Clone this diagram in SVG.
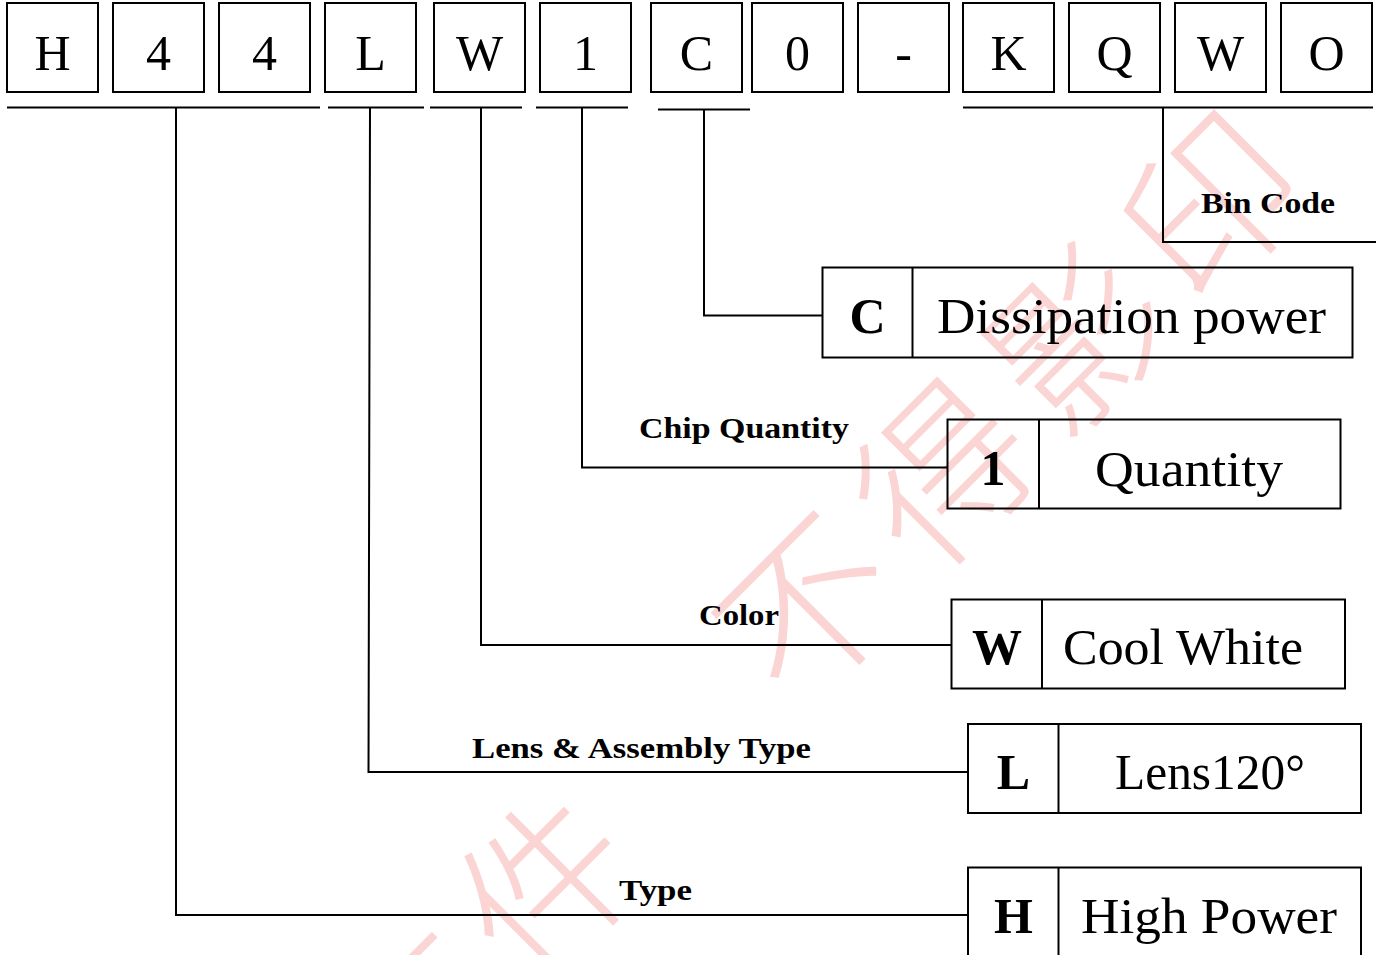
<svg xmlns="http://www.w3.org/2000/svg" width="1381" height="955" viewBox="0 0 1381 955">
<style>
.bx{fill:none;stroke:#000;stroke-width:2}
.ln{fill:none;stroke:#000;stroke-width:2}
.ch{font-family:"Liberation Serif","DejaVu Serif",serif;font-size:50px;text-anchor:middle;fill:#000}
.code{font-family:"Liberation Serif","DejaVu Serif",serif;font-size:50px;font-weight:bold;text-anchor:middle;fill:#000}
.desc{font-family:"Liberation Serif","DejaVu Serif",serif;font-size:50px;fill:#000}
.lbl{font-family:"Liberation Serif","DejaVu Serif",serif;font-size:30px;font-weight:bold;fill:#000}
.wm{font-family:"Noto Sans CJK SC",sans-serif;font-size:170px;font-weight:300;fill:#fbd4d4}
</style>
<rect width="1381" height="955" fill="#fff"/>
<g id="watermark">
<text class="wm" transform="translate(1010,392) rotate(-45)" text-anchor="middle" dominant-baseline="central" letter-spacing="20">不得影印</text>
<text class="wm" transform="translate(478,938) rotate(-45)" text-anchor="middle" dominant-baseline="central" letter-spacing="20">文件</text>
</g>
<g id="code-boxes">
<g id="c1"><rect class="bx" x="7" y="3" width="91" height="89"/><text class="ch" x="52.5" y="70">H</text></g>
<g id="c2"><rect class="bx" x="113" y="3" width="91" height="89"/><text class="ch" x="158.5" y="70">4</text></g>
<g id="c3"><rect class="bx" x="219" y="3" width="91" height="89"/><text class="ch" x="264.5" y="70">4</text></g>
<g id="c4"><rect class="bx" x="325" y="3" width="91" height="89"/><text class="ch" x="370.5" y="70">L</text></g>
<g id="c5"><rect class="bx" x="434" y="3" width="91" height="89"/><text class="ch" x="479.5" y="70">W</text></g>
<g id="c6"><rect class="bx" x="540" y="3" width="91" height="89"/><text class="ch" x="585.5" y="70">1</text></g>
<g id="c7"><rect class="bx" x="651" y="3" width="91" height="89"/><text class="ch" x="696.5" y="70">C</text></g>
<g id="c8"><rect class="bx" x="752" y="3" width="91" height="89"/><text class="ch" x="797.5" y="70">0</text></g>
<g id="c9"><rect class="bx" x="858" y="3" width="91" height="89"/><text class="ch" x="903.5" y="70">-</text></g>
<g id="c10"><rect class="bx" x="963" y="3" width="91" height="89"/><text class="ch" x="1008.5" y="70">K</text></g>
<g id="c11"><rect class="bx" x="1069" y="3" width="91" height="89"/><text class="ch" x="1114.5" y="70">Q</text></g>
<g id="c12"><rect class="bx" x="1175" y="3" width="91" height="89"/><text class="ch" x="1220.5" y="70">W</text></g>
<g id="c13"><rect class="bx" x="1281" y="3" width="91" height="89"/><text class="ch" x="1326.5" y="70">O</text></g>
</g>
<g id="connectors">
<line class="ln" x1="7" y1="107.5" x2="320" y2="107.5"/>
<line class="ln" x1="328" y1="107.5" x2="424" y2="107.5"/>
<line class="ln" x1="430" y1="107.5" x2="522" y2="107.5"/>
<line class="ln" x1="536" y1="107.5" x2="628" y2="107.5"/>
<line class="ln" x1="658" y1="109.5" x2="750" y2="109.5"/>
<line class="ln" x1="963" y1="107.5" x2="1373" y2="107.5"/>
<polyline class="ln" points="176,107.5 176,915 968,915"/>
<polyline class="ln" points="370,107.5 368.5,772 968,772"/>
<polyline class="ln" points="481,107.5 481,645 952,645"/>
<polyline class="ln" points="582,107.5 582,467.5 948,467.5"/>
<polyline class="ln" points="704,109.5 704,315.5 823,315.5"/>
<polyline class="ln" points="1163,107.5 1163,242 1376,242"/>
</g>
<g id="labels">
<text class="lbl" x="1201" y="213" textLength="134" lengthAdjust="spacingAndGlyphs">Bin Code</text>
<text class="lbl" x="639" y="438" textLength="210" lengthAdjust="spacingAndGlyphs">Chip Quantity</text>
<text class="lbl" x="699" y="625" textLength="80" lengthAdjust="spacingAndGlyphs">Color</text>
<text class="lbl" x="472" y="758" textLength="339" lengthAdjust="spacingAndGlyphs">Lens &amp; Assembly Type</text>
<text class="lbl" x="619" y="900" textLength="73" lengthAdjust="spacingAndGlyphs">Type</text>
</g>
<g id="node-c">
<rect class="bx" x="822.5" y="267.5" width="530" height="90"/>
<line class="ln" x1="912.5" y1="267.5" x2="912.5" y2="357.5"/>
<text class="code" x="867.5" y="333">C</text>
<text class="desc" x="937" y="333" textLength="389" lengthAdjust="spacingAndGlyphs">Dissipation power</text>
</g>
<g id="node-1">
<rect class="bx" x="947.5" y="419.5" width="393" height="89"/>
<line class="ln" x1="1039" y1="419.5" x2="1039" y2="508.5"/>
<text class="code" x="993" y="485">1</text>
<text class="desc" x="1095" y="486" textLength="188" lengthAdjust="spacingAndGlyphs">Quantity</text>
</g>
<g id="node-w">
<rect class="bx" x="951.5" y="599.5" width="393.5" height="89"/>
<line class="ln" x1="1042" y1="599.5" x2="1042" y2="688.5"/>
<text class="code" x="997" y="664">W</text>
<text class="desc" x="1063" y="664" textLength="240" lengthAdjust="spacingAndGlyphs">Cool White</text>
</g>
<g id="node-l">
<rect class="bx" x="968" y="724" width="393" height="89"/>
<line class="ln" x1="1058.5" y1="724" x2="1058.5" y2="813"/>
<text class="code" x="1013.5" y="789">L</text>
<text class="desc" x="1115" y="789" textLength="190" lengthAdjust="spacingAndGlyphs">Lens120°</text>
</g>
<g id="node-h">
<rect class="bx" x="968" y="867.5" width="393" height="100"/>
<line class="ln" x1="1058.5" y1="867.5" x2="1058.5" y2="967"/>
<text class="code" x="1013.5" y="933">H</text>
<text class="desc" x="1081" y="933" textLength="256" lengthAdjust="spacingAndGlyphs">High Power</text>
</g>
</svg>
